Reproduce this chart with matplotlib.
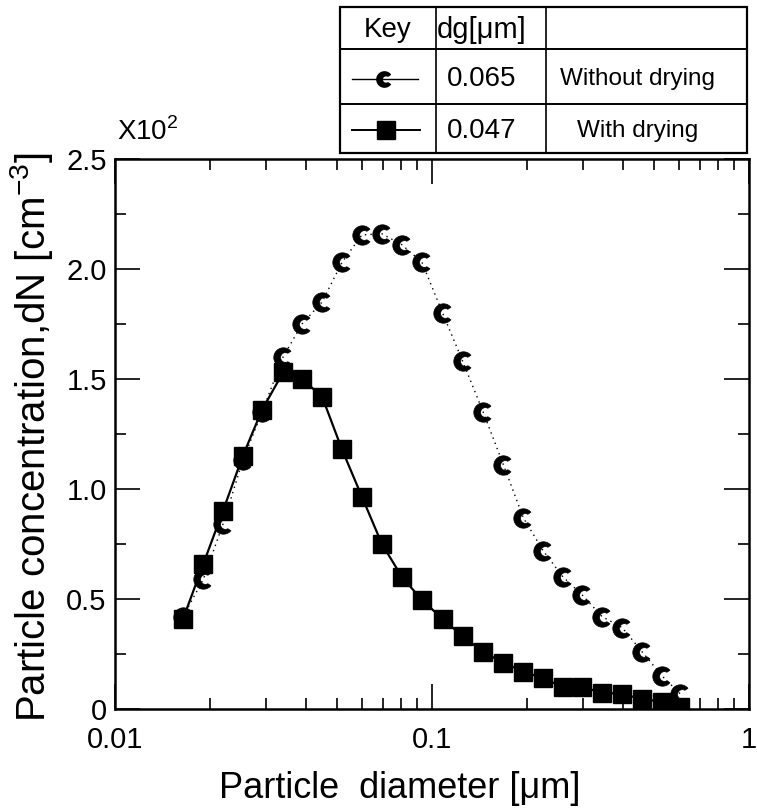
import numpy as np
import matplotlib
matplotlib.use("Agg")
import matplotlib.pyplot as plt
from matplotlib.path import Path
from matplotlib.lines import Line2D
from matplotlib.ticker import FixedLocator, FixedFormatter, LogLocator, NullFormatter

plt.rcParams['font.family'] = ['Liberation Sans', 'DejaVu Sans']
plt.rcParams['mathtext.fontset'] = 'custom'
plt.rcParams['mathtext.rm'] = 'Liberation Sans'

# Particle size channels [um]
diameter = [0.0164, 0.0190, 0.0219, 0.0253, 0.0291, 0.0339, 0.0389, 0.0450,
            0.0520, 0.0601, 0.0695, 0.0804, 0.0930, 0.108, 0.125, 0.145,
            0.168, 0.194, 0.224, 0.259, 0.297, 0.344, 0.398, 0.460, 0.532, 0.606]

# Number concentration (x10^2 cm^-3)
without_drying = [0.42, 0.59, 0.84, 1.13, 1.35, 1.60, 1.75, 1.85, 2.03, 2.155,
                  2.16, 2.11, 2.03, 1.80, 1.58, 1.35, 1.11, 0.87, 0.72, 0.60,
                  0.52, 0.42, 0.37, 0.26, 0.15, 0.07]
with_drying = [0.41, 0.66, 0.90, 1.15, 1.36, 1.53, 1.50, 1.42, 1.18, 0.965,
               0.75, 0.60, 0.495, 0.41, 0.33, 0.26, 0.21, 0.17, 0.14, 0.10,
               0.10, 0.075, 0.068, 0.045, 0.033, 0.01]

yticks = [0, 0.5, 1.0, 1.5, 2.0, 2.5]
ytick_labels = ["0", "0.5", "1.0", "1.5", "2.0", "2.5"]
xticks = [0.01, 0.1, 1]
xtick_labels = ["0.01", "0.1", "1"]

key_rows = [("0.065", "Without drying"), ("0.047", "With drying")]


def crescent_path():
    t_out = np.radians(np.linspace(40, 320, 40))
    outer = np.column_stack([np.cos(t_out), np.sin(t_out)])
    t_in = np.radians(np.linspace(300, 60, 40))
    inner = np.column_stack([0.2 + 0.5 * np.cos(t_in), 0.5 * np.sin(t_in)])
    verts = np.vstack([outer, inner, outer[:1]])
    codes = [Path.MOVETO] + [Path.LINETO] * (len(verts) - 2) + [Path.CLOSEPOLY]
    return Path(verts, codes)


crescent = crescent_path()

W, H = 757, 808
fig = plt.figure(figsize=(W / 100, H / 100), dpi=100)
ax = fig.add_axes([115 / W, 1 - 709 / H, (749 - 115) / W, (709 - 159) / H])

ax.plot(diameter, without_drying, color='black', lw=1.0, ls=(0, (1, 3)),
        marker=crescent, ms=14, mfc='black', mec='black', mew=0.5, zorder=3)
ax.plot(diameter, with_drying, color='black', lw=1.6, ls='-',
        marker='s', ms=12.5, mfc='black', mec='black', zorder=4)

ax.set_xscale('log')
ax.set_xlim(0.01, 1)
ax.set_ylim(0, 2.5)

ax.xaxis.set_major_locator(FixedLocator(xticks))
ax.xaxis.set_major_formatter(FixedFormatter(xtick_labels))
ax.xaxis.set_minor_locator(LogLocator(base=10, subs=np.arange(2, 10)))
ax.xaxis.set_minor_formatter(NullFormatter())
ax.yaxis.set_major_locator(FixedLocator(yticks))
ax.yaxis.set_major_formatter(FixedFormatter(ytick_labels))
ax.yaxis.set_minor_locator(FixedLocator([0.25, 0.75, 1.25, 1.75, 2.25]))

ax.tick_params(which='both', direction='in', top=True, right=True, width=1.2,
               labelsize=21, color='black')
ax.tick_params(which='major', length=18)
ax.tick_params(which='minor', length=8)
ax.tick_params(axis='x', which='major', pad=12.5)
ax.tick_params(axis='y', which='major', pad=6)
for s in ax.spines.values():
    s.set_linewidth(1.8)

ax.set_xlabel("Particle  diameter [μm]", fontsize=26, labelpad=12)
ax.xaxis.label.set_x(0.4495)
ax.set_ylabel("Particle concentration,dN [cm$^{\\mathregular{-3}}$]", fontsize=29)
ax.yaxis.set_label_coords(-0.095, 0.495)

fig.text(117 / W, 1 - 132 / H, "X10$^{\\mathregular{2}}$", fontsize=20, va='center', ha='left')

# Key table
xs = [340, 436, 546, 747]
ys = [7, 49, 104, 153]
tab = fig.add_axes([0, 0, 1, 1], zorder=5)
tab.set_xlim(0, W)
tab.set_ylim(H, 0)
tab.axis('off')
tab.add_patch(plt.Rectangle((xs[0], ys[0]), xs[-1] - xs[0], ys[-1] - ys[0],
                            facecolor='white', edgecolor='black', lw=1.6))
for x in xs[1:-1]:
    tab.plot([x, x], [ys[0], ys[-1]], color='black', lw=1.2)
for y in ys[1:-1]:
    tab.plot([xs[0], xs[-1]], [y, y], color='black', lw=1.4)

tab.text(388, 30, "Key", fontsize=20, ha='center', va='center')
tab.text(437, 30, "dg[μm]", fontsize=21, ha='left', va='center')
for i, (dg, name) in enumerate(key_rows):
    yc = (ys[i + 1] + ys[i + 2]) / 2 + 2
    tab.text(482, yc, dg, fontsize=20, ha='center', va='center')
    tab.text(638, yc, name, fontsize=17.5, ha='center', va='center')

tab.add_line(Line2D([352, 418], [79, 79], color='black', lw=1.0, ls='-'))
tab.add_line(Line2D([384], [79], marker=crescent, ms=11, mfc='black', mec='black', ls='none'))
tab.add_line(Line2D([352, 420], [130, 130], color='black', lw=1.4))
tab.add_line(Line2D([386], [130], marker='s', ms=12.5, mfc='black', mec='black', ls='none'))

fig.savefig("out.png", dpi=100)
